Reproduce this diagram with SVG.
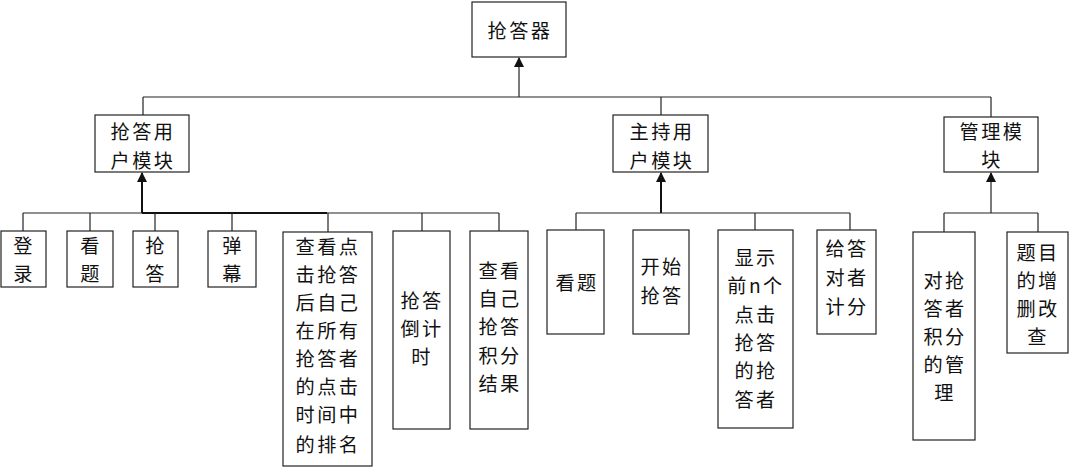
<svg xmlns="http://www.w3.org/2000/svg" width="1070" height="467" viewBox="0 0 1070 467">
<style>
.box{fill:#fff;stroke:#222;stroke-width:1.2}
.t{font-family:"Noto Sans CJK SC","Liberation Serif",serif;font-size:19.2px;letter-spacing:2.4px;fill:#111;text-anchor:middle;dominant-baseline:central}
.ln{stroke:#222;stroke-width:1.2;fill:none}
.th{stroke:#111;stroke-width:2;fill:none}
</style>
<defs>
<marker id="ah" markerWidth="10" markerHeight="12" refX="9" refY="5" orient="auto" markerUnits="userSpaceOnUse">
<path d="M0,0 L10,5 L0,10 z" fill="#111"/>
</marker>
</defs>
<rect width="1070" height="467" fill="#fff"/>
<g id="connectors">
<line class="ln" x1="519" y1="97" x2="519" y2="58" marker-end="url(#ah)"/>
<line class="ln" x1="143" y1="97" x2="991" y2="97"/>
<line class="ln" x1="143" y1="97" x2="143" y2="115"/>
<line class="ln" x1="661" y1="97" x2="661" y2="115"/>
<line class="ln" x1="991" y1="97" x2="991" y2="117"/>
<line class="th" x1="142" y1="213" x2="142" y2="173" marker-end="url(#ah)"/>
<line class="ln" x1="23" y1="213" x2="499" y2="213"/>
<line class="th" x1="142" y1="213" x2="327" y2="213"/>
<line class="ln" x1="23" y1="213" x2="23" y2="231"/>
<line class="ln" x1="90" y1="213" x2="90" y2="231"/>
<line class="ln" x1="155" y1="213" x2="155" y2="231"/>
<line class="ln" x1="232" y1="213" x2="232" y2="231"/>
<line class="ln" x1="328" y1="213" x2="328" y2="232"/>
<line class="ln" x1="422" y1="213" x2="422" y2="231"/>
<line class="ln" x1="499" y1="213" x2="499" y2="231"/>
<line class="th" x1="661" y1="213" x2="661" y2="173" marker-end="url(#ah)"/>
<line class="ln" x1="576" y1="213" x2="850" y2="213"/>
<line class="ln" x1="576" y1="213" x2="576" y2="230"/>
<line class="ln" x1="755" y1="213" x2="755" y2="230"/>
<line class="ln" x1="850" y1="213" x2="850" y2="230"/>
<line class="ln" x1="991" y1="213" x2="991" y2="173" marker-end="url(#ah)"/>
<line class="ln" x1="944" y1="213" x2="1038" y2="213"/>
<line class="ln" x1="944" y1="213" x2="944" y2="232"/>
<line class="ln" x1="1038" y1="213" x2="1038" y2="232"/>
</g>
<g id="root"><rect class="box" x="472" y="2" width="94" height="55"/><text class="t" x="520" y="30">抢答器</text></g>
<g id="m1"><rect class="box" x="95" y="115" width="94" height="57"/><text class="t" x="143" y="131">抢答用<tspan x="143" dy="29">户模块</tspan></text></g>
<g id="m2"><rect class="box" x="613" y="115" width="95" height="57"/><text class="t" x="662" y="131">主持用<tspan x="662" dy="29">户模块</tspan></text></g>
<g id="m3"><rect class="box" x="944" y="117" width="94" height="55"/><text class="t" x="992" y="131">管理模<tspan x="992" dy="28">块</tspan></text></g>
<g id="n1"><rect class="box" x="1" y="231" width="45" height="56"/><text class="t" x="24" y="245">登<tspan x="24" dy="28">录</tspan></text></g>
<g id="n2"><rect class="box" x="67" y="231" width="46" height="56"/><text class="t" x="91" y="245">看<tspan x="91" dy="28">题</tspan></text></g>
<g id="n3"><rect class="box" x="133" y="231" width="45" height="56"/><text class="t" x="156" y="245">抢<tspan x="156" dy="28">答</tspan></text></g>
<g id="n4"><rect class="box" x="208" y="231" width="48" height="56"/><text class="t" x="233" y="245">弹<tspan x="233" dy="28">幕</tspan></text></g>
<g id="n5"><rect class="box" x="283" y="232" width="89" height="234"/>
<text class="t" x="328" y="246">查看点<tspan x="328" dy="28">击抢答</tspan><tspan x="328" dy="28">后自己</tspan><tspan x="328" dy="28">在所有</tspan><tspan x="328" dy="28">抢答者</tspan><tspan x="328" dy="28">的点击</tspan><tspan x="328" dy="28">时间中</tspan><tspan x="328" dy="30">的排名</tspan></text></g>
<g id="n6"><rect class="box" x="393" y="231" width="57" height="198"/><text class="t" x="422" y="300">抢答<tspan x="422" dy="28">倒计</tspan><tspan x="422" dy="28">时</tspan></text></g>
<g id="n7"><rect class="box" x="470" y="231" width="58" height="198"/><text class="t" x="500" y="270">查看<tspan x="500" dy="28">自己</tspan><tspan x="500" dy="28">抢答</tspan><tspan x="500" dy="29">积分</tspan><tspan x="500" dy="28">结果</tspan></text></g>
<g id="n8"><rect class="box" x="547" y="230" width="57" height="104"/><text class="t" x="577" y="282">看题</text></g>
<g id="n9"><rect class="box" x="633" y="230" width="56" height="104"/><text class="t" x="662" y="266">开始<tspan x="662" dy="29">抢答</tspan></text></g>
<g id="n10"><rect class="box" x="718" y="230" width="75" height="198"/><text class="t" x="756" y="257">显示<tspan x="756" dy="28">前n个</tspan><tspan x="756" dy="29">点击</tspan><tspan x="756" dy="28">抢答</tspan><tspan x="756" dy="28">的抢</tspan><tspan x="756" dy="29">答者</tspan></text></g>
<g id="n11"><rect class="box" x="817" y="230" width="59" height="104"/><text class="t" x="847" y="248">给答<tspan x="847" dy="29">对者</tspan><tspan x="847" dy="29">计分</tspan></text></g>
<g id="n12"><rect class="box" x="913" y="232" width="62" height="208"/><text class="t" x="945" y="280">对抢<tspan x="945" dy="28">答者</tspan><tspan x="945" dy="28">积分</tspan><tspan x="945" dy="28">的管</tspan><tspan x="945" dy="28">理</tspan></text></g>
<g id="n13"><rect class="box" x="1007" y="232" width="61" height="121"/><text class="t" x="1038" y="252">题目<tspan x="1038" dy="28">的增</tspan><tspan x="1038" dy="28">删改</tspan><tspan x="1038" dy="28">查</tspan></text></g>
</svg>
